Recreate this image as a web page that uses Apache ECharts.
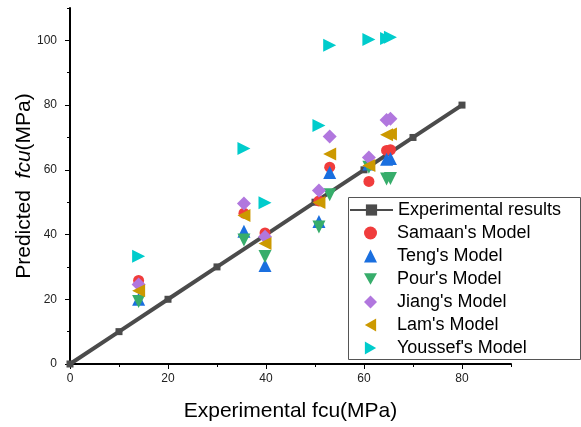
<!DOCTYPE html>
<html>
<head>
<meta charset="utf-8">
<script src="https://cdn.jsdelivr.net/npm/echarts@6/dist/echarts.min.js"></script>
<style>
html, body { margin: 0; padding: 0; background: #fff; }
#chart { width: 581px; height: 427px; }
</style>
</head>
<body>
<div id="chart"></div>
<script>
// Reference line: experimental strength against itself
const expX = [0, 10, 20, 30, 40, 50, 60, 70, 80];
const expY = [0, 10, 20, 30, 40, 50, 60, 70, 80];

// Experimental fcu of the specimens (x) and each model's prediction (y)
const fcuX    = [14, 35.5, 39.8, 50.8, 53, 61, 64.6, 65.4];
const samaan  = [25.8, 46.6, 40.5, 50.4, 60.8, 56.4, 66.0, 66.2];
const teng    = [20.0, 41.0, 30.4, 44.0, 59.2, 61.8, 63.3, 63.5];
const pour    = [19.3, 38.3, 33.2, 42.3, 52.3, 60.8, 57.2, 57.3];
const jiang   = [24.6, 49.6, 39.3, 53.6, 70.3, 63.8, 75.4, 75.8];
const lam     = [22.6, 45.9, 37.2, 49.9, 64.9, 61.3, 70.8, 71.1];
const youssef = [33.3, 66.6, 49.8, 73.7, 98.5, 100.3, 100.6, 101.0];

const xMajor = [0, 20, 40, 60, 80];
const yMajor = [0, 20, 40, 60, 80, 100];

const FONT = 'Liberation Sans, Arial, sans-serif';

// Triangle outlines for legend icons (rotation is not carried into the legend)
const ICON_DOWN  = 'path://M0,0 L10,0 L5,8.7 Z';
const ICON_LEFT  = 'path://M8.7,0 L8.7,10 L0,5 Z';
const ICON_RIGHT = 'path://M0,0 L8.7,5 L0,10 Z';

function pairs(xs, ys) { return xs.map((x, i) => [x, ys[i]]); }

function scatter(name, ys, symbol, rotate, color, size) {
  return {
    name: name,
    type: 'scatter',
    data: pairs(fcuX, ys),
    symbol: symbol,
    symbolRotate: rotate,
    symbolSize: size,
    itemStyle: { color: color, opacity: 1 },
    z: 3
  };
}

const chart = echarts.init(document.getElementById('chart'), null, { renderer: 'canvas' });

const axisLineStyle = { color: '#000', width: 2 };
const legendText = { fontSize: 18, lineHeight: 18, color: '#000', fontFamily: FONT };

chart.setOption({
  animation: false,
  backgroundColor: '#fff',
  textStyle: { fontFamily: FONT },
  grid: { left: 70, right: 70, top: 8, bottom: 63, outerBoundsMode: 'none', containLabel: false },
  xAxis: [
    {
      type: 'value', min: 0, max: 90, interval: 10,
      name: 'Experimental fcu(MPa)', nameLocation: 'middle', nameGap: 37,
      nameMoveOverlap: false,
      nameTextStyle: { fontSize: 21, color: '#000', fontFamily: FONT },
      axisLine: { lineStyle: axisLineStyle },
      axisTick: { show: true, length: 3, lineStyle: { color: '#000', width: 1 } },
      axisLabel: {
        fontSize: 12, color: '#222', margin: 9, fontFamily: FONT,
        formatter: v => (xMajor.indexOf(v) >= 0 ? String(v) : '')
      },
      splitLine: { show: false }
    },
    {
      type: 'value', min: 0, max: 90, position: 'bottom',
      axisLine: { show: false },
      axisTick: { show: true, length: 5, customValues: xMajor, lineStyle: { color: '#000', width: 1 } },
      axisLabel: { show: false },
      splitLine: { show: false }
    }
  ],
  yAxis: [
    {
      type: 'value', min: 0, max: 110, interval: 10,
      name: 'Predicted  {i|fcu}(MPa)', nameLocation: 'middle', nameGap: 35,
      nameMoveOverlap: false,
      nameTextStyle: {
        fontSize: 21, color: '#000', fontFamily: FONT,
        rich: { i: { fontStyle: 'italic', fontSize: 21, color: '#000', fontFamily: FONT } }
      },
      axisLine: { lineStyle: axisLineStyle },
      axisTick: { show: true, length: 3, lineStyle: { color: '#000', width: 1 } },
      axisLabel: {
        fontSize: 12, color: '#222', margin: 13, fontFamily: FONT,
        formatter: v => (yMajor.indexOf(v) >= 0 ? String(v) : '')
      },
      splitLine: { show: false }
    },
    {
      type: 'value', min: 0, max: 110, position: 'left',
      axisLine: { show: false },
      axisTick: { show: true, length: 5, customValues: yMajor, lineStyle: { color: '#000', width: 1 } },
      axisLabel: { show: false },
      splitLine: { show: false }
    }
  ],
  // Legend frame
  graphic: [{
    type: 'rect', left: 348, top: 197, z: 10,
    shape: { width: 232, height: 162 },
    style: { fill: '#fff', stroke: '#555', lineWidth: 1 }
  }],
  legend: [
    {
      orient: 'vertical', left: 349, top: 201, z: 11,
      padding: 0, itemWidth: 43, itemHeight: 14,
      textStyle: legendText,
      data: ['Experimental results']
    },
    {
      orient: 'vertical', left: 364, top: 224, z: 11,
      padding: 0, itemWidth: 13, itemHeight: 13, itemGap: 5,
      textStyle: Object.assign({}, legendText, { rich: { s: { width: 15 } } }),
      formatter: name => '{s|}' + name,
      data: [
        { name: "Samaan's Model", icon: 'circle' },
        { name: "Teng's Model", icon: 'triangle' },
        { name: "Pour's Model", icon: ICON_DOWN },
        { name: "Jiang's Model", icon: 'diamond' },
        { name: "Lam's Model", icon: ICON_LEFT },
        { name: "Youssef's Model", icon: ICON_RIGHT }
      ]
    }
  ],
  series: [
    {
      name: 'Experimental results',
      type: 'line',
      data: pairs(expX, expY),
      symbol: 'rect', symbolSize: 7,
      lineStyle: { color: '#4b4b4b', width: 4 },
      itemStyle: { color: '#4b4b4b' },
      z: 2
    },
    scatter("Samaan's Model", samaan, 'circle', 0, '#f03c3c', 11),
    scatter("Teng's Model", teng, 'triangle', 0, '#1a6fdf', 13),
    scatter("Pour's Model", pour, 'triangle', 180, '#37ad6b', 13),
    scatter("Jiang's Model", jiang, 'diamond', 0, '#b177de', 14),
    scatter("Lam's Model", lam, 'triangle', 90, '#cc9900', 13),
    scatter("Youssef's Model", youssef, 'triangle', -90, '#00cccc', 13)
  ]
});
</script>
</body>
</html>
